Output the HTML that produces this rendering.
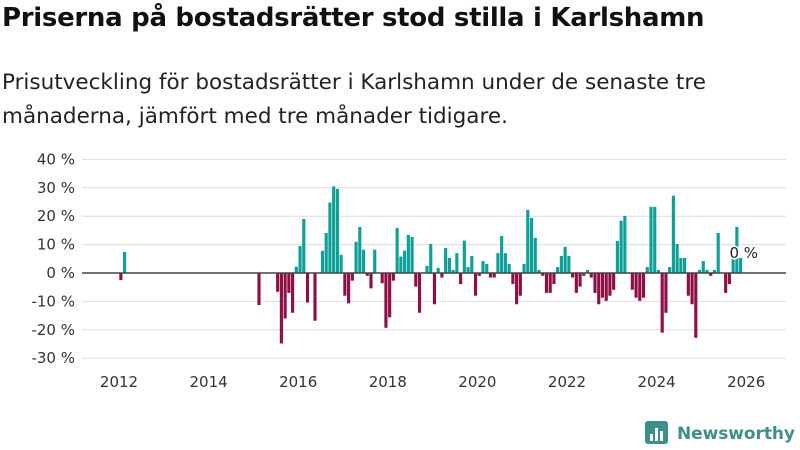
<!DOCTYPE html>
<html><head><meta charset="utf-8">
<style>
body{margin:0;width:800px;height:450px;background:#fff;font-family:"Liberation Sans","DejaVu Sans",sans-serif;overflow:hidden;position:relative}
#title{position:absolute;left:2px;top:3px;font-size:26px;font-weight:bold;color:#111;margin:0;font-family:"DejaVu Sans","Liberation Sans",sans-serif;letter-spacing:-0.3px;white-space:nowrap}
#sub{position:absolute;left:2px;top:66px;font-size:21.5px;line-height:34px;color:#222;width:798px;font-family:"DejaVu Sans","Liberation Sans",sans-serif;letter-spacing:0px;white-space:nowrap}
svg{position:absolute;left:0;top:0}
</style></head><body>
<h1 id="title">Priserna på bostadsrätter stod stilla i Karlshamn</h1>
<div id="sub">Prisutveckling för bostadsrätter i Karlshamn under de senaste tre<br>månaderna, jämfört med tre månader tidigare.</div>
<svg id="chart" width="800" height="450"></svg>
<script>
const startYear = 2012;
const values = [-2.5,7.4,
0,0,0,0,0,0,0,0,0,0,0,0,0,0,0,0,0,0,0,0,0,0,0,0,0,0,0,0,0,0,0,0,0,0,0,
-11.3,0,0,0,0,-6.6,-24.8,-16,-7,-14,2.2,9.5,19,-10.4,0,-16.8,0,7.8,14.1,24.8,30.5,29.6,6.4,-8,-10.7,-2.7,
11,16.2,8.2,-1,-5.4,8.2,0,-3.6,-19.3,-15.6,-2.7,15.9,5.8,7.9,13.4,12.7,-4.8,-14,0,2.5,10.2,-11,1.8,-1.6,
8.8,5.3,1.1,7,-3.9,11.4,2.1,6,-8,-1,4.2,3.2,-1.6,-1.6,7,13,7,3.2,-3.9,-11,-8,3.2,22.2,19.4,12.4,1.1,
-1,-7,-7,-3.9,2.1,6,9.2,6,-1.6,-7,-4.8,-1,1.1,-1.6,-7,-11,-8.7,-9.8,-8,-5.9,11.3,18.4,20.1,0,-5.9,-8.7,
-9.8,-8.7,2.1,23.3,23.3,1.1,-21,-14,2.1,27.2,10.2,5.3,5.3,-8,-11,-22.8,1.1,4.2,1.1,-1,1.1,14.1,0,-7,-3.9,5,16.2,5.3,0];
const yTicks = [40,30,20,10,0,-10,-20,-30];
const xTicks = [2012,2014,2016,2018,2020,2022,2024,2026];
const lastLabel = "0 %";

const NS="http://www.w3.org/2000/svg";
const svg=document.getElementById('chart');
const y=v=>273-v*2.84;
const x=yr=>119+(yr-2012)*44.8;
function mk(t,a){const e=document.createElementNS(NS,t);for(const k in a)e.setAttribute(k,a[k]);svg.appendChild(e);return e;}
yTicks.forEach(t=>{
  const g=mk('line',{x1:82,x2:786,y1:y(t),y2:y(t),stroke:'#ddd','stroke-width':1});
  
  
  const l=mk('text',{x:75,y:y(t)+5,'text-anchor':'end','font-size':15,fill:'#333','font-family':'DejaVu Sans, Liberation Sans, sans-serif'});
  l.textContent=t+' %';
  
  
});
xTicks.forEach(t=>{
  const l=mk('text',{x:x(t),y:387,'text-anchor':'middle','font-size':15,fill:'#333','font-family':'DejaVu Sans, Liberation Sans, sans-serif'});
  l.textContent=t;
  
  
});
const mw=44.8/12;
values.forEach((v,i)=>{
  if(v===0)return;
  const cx=x(startYear)+i*mw;
  const r=mk('rect',{x:cx+0.3,width:mw-0.6,y:v>0?y(v):y(0),height:Math.abs(v)*2.84,fill:v>0?'#0ca098':'#8e0f46'});
  
  
});
const z=mk('line',{x1:82,x2:786,y1:y(0),y2:y(0),stroke:'#444','stroke-width':1.5});


const li=values.length-1;
const lt=mk('text',{x:x(startYear)+li*mw-13,y:y(values[li])-15,'font-size':15,fill:'#222','font-family':'DejaVu Sans, Liberation Sans, sans-serif',stroke:'#fff','stroke-width':3,'paint-order':'stroke'});
lt.textContent=lastLabel;


// logo
const lg=mk('g',{});


const b=document.createElementNS(NS,'rect');
[['x',645],['y',421],['width',23],['height',23],['rx',3],['fill','#3d8f87']].forEach(p=>b.setAttribute(p[0],p[1]));lg.appendChild(b);
[[650,434,3,7],[655,428,3,13],[660,431,3,10]].forEach(a=>{const r=document.createElementNS(NS,'rect');r.setAttribute('x',a[0]);r.setAttribute('y',a[1]);r.setAttribute('width',a[2]);r.setAttribute('height',a[3]);r.setAttribute('fill','#fff');lg.appendChild(r);});
const lt2=document.createElementNS(NS,'text');
lt2.setAttribute('x',677);lt2.setAttribute('y',439);lt2.setAttribute('font-size',17);lt2.setAttribute('font-weight','bold');lt2.setAttribute('fill','#3d8f87');lt2.setAttribute('font-family','DejaVu Sans, Liberation Sans, sans-serif');
lt2.setAttribute('textLength',118);
lt2.textContent='Newsworthy';lg.appendChild(lt2);
</script>
</body></html>
